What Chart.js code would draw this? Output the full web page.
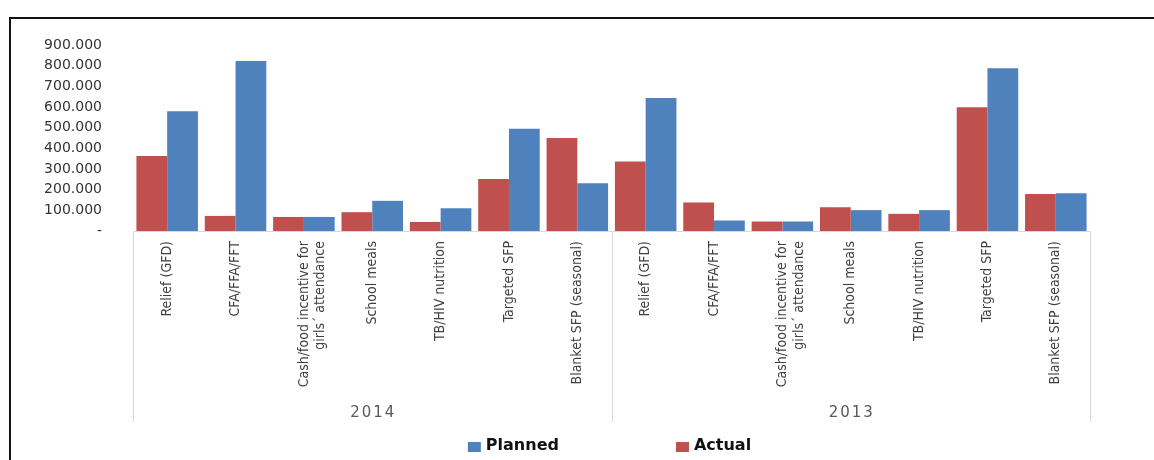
<!DOCTYPE html>
<html>
<head>
<meta charset="utf-8">
<script src="https://cdn.jsdelivr.net/npm/chart.js@4"></script>
<style>
  html, body { margin: 0; padding: 0; background: #fff; overflow: hidden; }
  #frame {
    position: absolute; left: 9px; top: 17px; width: 2000px; height: 2000px;
    border-top: 2px solid #111; border-left: 2px solid #111;
  }
  #wrap { position: absolute; left: 0; top: 0; width: 1154px; height: 460px; }
</style>
</head>
<body>
<div id="frame"></div>
<div id="wrap"><canvas id="chart"></canvas></div>
<script>
// programme categories, repeated once per year
const categories = [
    'Relief (GFD)',
    'CFA/FFA/FFT',
    ['Cash/food incentive for', 'girls\u00b4 attendance'],
    'School meals',
    'TB/HIV nutrition',
    'Targeted SFP',
    'Blanket SFP (seasonal)'
];
const years = ['2014', '2013'];

const actual2014 = [363000, 73000, 68000, 91000, 44000, 252000, 450000];
const planned2014 = [579000, 822000, 68000, 146000, 110000, 495000, 231000];
const actual2013 = [336000, 138000, 46000, 115000, 83000, 599000, 179000];
const planned2013 = [644000, 51000, 46000, 101000, 101000, 787000, 183000];

const yTicks = [0, 100000, 200000, 300000, 400000, 500000, 600000, 700000, 800000, 900000];

const labels = categories.concat(categories);
const actual = actual2014.concat(actual2013);
const planned = planned2014.concat(planned2013);

const RED = '#C0504D';
const BLUE = '#4F81BD';
const AXIS_GREY = '#d9d9d9';
const GROUP_DROP = 191;

function fmt(v) {
    if (v === 0) return '-';
    return String(v).replace(/\B(?=(\d{3})+(?!\d))/g, '.');
}

// year labels under the categories, with divider lines between the groups
const groupPlugin = {
    id: 'groups',
    afterDraw(chart) {
        const ctx = chart.ctx;
        const x = chart.scales.x;
        const area = chart.chartArea;
        const per = categories.length;
        const edges = [x.left];
        for (let g = 1; g < years.length; g++) {
            edges.push((x.getPixelForValue(g * per - 1) + x.getPixelForValue(g * per)) / 2);
        }
        edges.push(x.right);

        ctx.save();
        ctx.strokeStyle = AXIS_GREY;
        ctx.lineWidth = 1;
        edges.forEach(e => {
            const px = Math.round(e) + 0.5;
            ctx.beginPath();
            ctx.moveTo(px, area.bottom);
            ctx.lineTo(px, area.bottom + GROUP_DROP);
            ctx.stroke();
        });

        ctx.fillStyle = '#595959';
        ctx.font = '15px "DejaVu Sans"';
        ctx.letterSpacing = '2px';
        ctx.textAlign = 'center';
        ctx.textBaseline = 'middle';
        years.forEach((yr, i) => {
            ctx.fillText(yr, (edges[i] + edges[i + 1]) / 2 + 1, area.bottom + 182);
        });
        ctx.restore();
    }
};

// legend centred under the plot area, Planned first
const legendPlugin = {
    id: 'sideLegend',
    afterDraw(chart) {
        const ctx = chart.ctx;
        const area = chart.chartArea;
        const items = [chart.data.datasets[1], chart.data.datasets[0]];
        const box = 13, gap = 5, itemGap = 117;
        ctx.save();
        ctx.font = 'bold 16px "DejaVu Sans"';
        const widths = items.map(d => box + gap + ctx.measureText(d.label).width);
        const total = widths.reduce((a, b) => a + b, 0) + itemGap * (items.length - 1);
        let cx = (area.left + area.right) / 2 - total / 2 - 2;
        const cy = 446;
        ctx.textBaseline = 'middle';
        items.forEach((d, i) => {
            ctx.fillStyle = d.backgroundColor;
            ctx.fillRect(cx, cy - 4, box, 10);
            ctx.fillStyle = '#111';
            ctx.fillText(d.label, cx + box + gap, cy);
            cx += widths[i] + itemGap;
        });
        ctx.restore();
    }
};

new Chart(document.getElementById('chart'), {
    type: 'bar',
    data: {
        labels: labels,
        datasets: [{
            label: 'Actual',
            data: actual,
            backgroundColor: RED,
            borderWidth: 0,
            barPercentage: 1.0,
            categoryPercentage: 0.9
        }, {
            label: 'Planned',
            data: planned,
            backgroundColor: BLUE,
            borderWidth: 0,
            barPercentage: 1.0,
            categoryPercentage: 0.9
        }]
    },
    plugins: [groupPlugin, legendPlugin],
    options: {
        responsive: true,
        maintainAspectRatio: false,
        animation: false,
        layout: { padding: { top: 45, right: 64, bottom: 37, left: 0 } },
        plugins: {
            legend: { display: false },
            tooltip: { enabled: false }
        },
        scales: {
            x: {
                grid: { display: false, drawTicks: false },
                border: { display: true, color: AXIS_GREY, width: 1 },
                ticks: {
                    autoSkip: false,
                    minRotation: 90,
                    maxRotation: 90,
                    padding: 10,
                    color: '#404040',
                    font: { family: '"Liberation Sans Narrow", "DejaVu Sans Condensed", sans-serif', size: 14 }
                },
                afterFit: function (scale) { scale.height = GROUP_DROP + 1; }
            },
            y: {
                min: 0,
                max: 900000,
                grid: { display: false, drawTicks: false },
                border: { display: false },
                afterBuildTicks: function (scale) {
                    scale.ticks = yTicks.map(v => ({ value: v }));
                },
                ticks: {
                    padding: 31,
                    color: '#333',
                    font: { family: '"DejaVu Sans"', size: 14 },
                    callback: function (v) { return fmt(v); }
                },
                afterFit: function (scale) { scale.width = 133; }
            }
        }
    }
});
</script>
</body>
</html>
